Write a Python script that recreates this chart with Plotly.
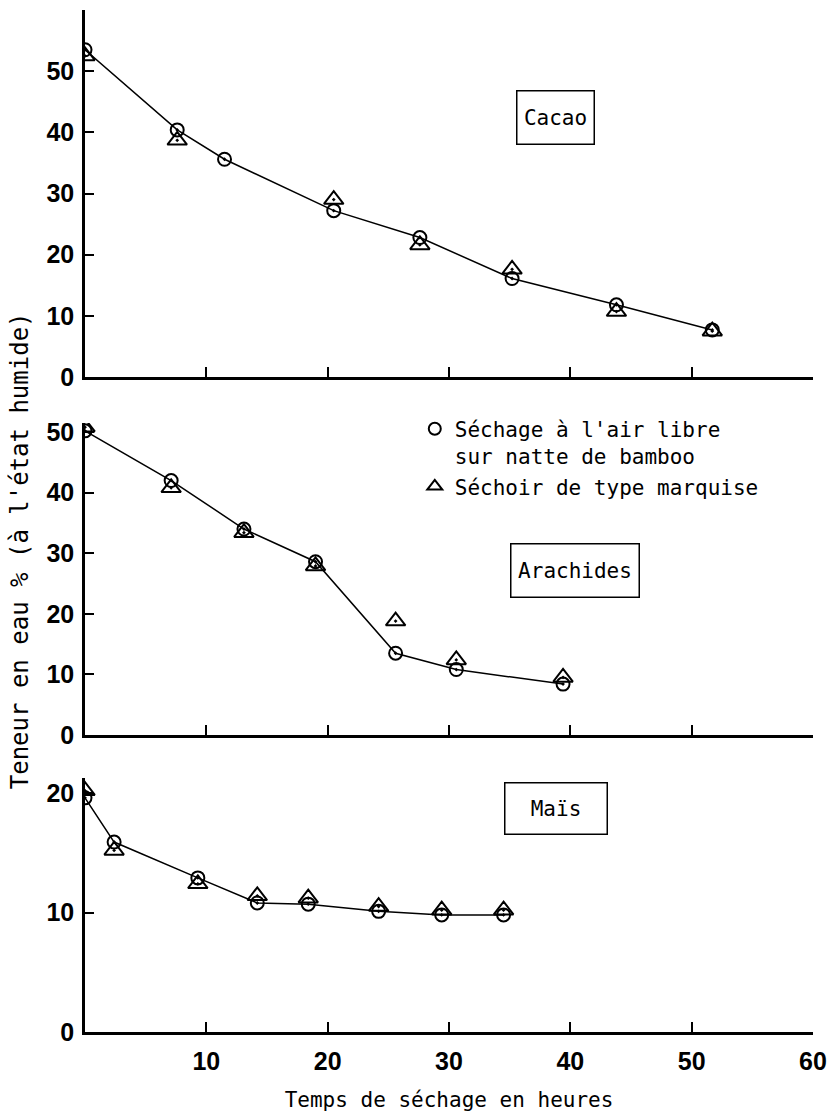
import plotly.graph_objects as go

# ---------------- data ----------------
cacao_x_circ = [0, 7.6, 11.5, 20.5, 27.6, 35.2, 43.8, 51.7]
cacao_y_circ = [53.5, 40.4, 35.6, 27.2, 22.8, 16.1, 11.8, 7.7]
cacao_x_tri = [0, 7.6, 20.5, 27.6, 35.2, 43.8, 51.7]
cacao_y_tri = [52.5, 38.7, 29.0, 21.6, 17.6, 10.7, 7.5]

arachides_x_circ = [0, 7.1, 13.1, 19.0, 25.6, 30.6, 39.4]
arachides_y_circ = [50.2, 42.0, 34.0, 28.6, 13.5, 10.8, 8.4]
arachides_x_tri = [0, 7.1, 13.1, 19.0, 25.6, 30.6, 39.4]
arachides_y_tri = [50.8, 40.8, 33.4, 27.9, 18.8, 12.4, 9.5]

mais_x = [0, 2.4, 9.3, 14.2, 18.4, 24.2, 29.4, 34.5]
mais_y_circ = [19.6, 15.9, 12.9, 10.8, 10.7, 10.1, 9.8, 9.8]
mais_y_tri = [20.2, 15.2, 12.4, 11.4, 11.2, 10.5, 10.2, 10.2]

x_ticks = [10, 20, 30, 40, 50, 60]
y_ticks_top = [0, 10, 20, 30, 40, 50, 60]
y_ticklabels_top = ["0", "10", "20", "30", "40", "50", ""]
y_ticks_mid = [0, 10, 20, 30, 40, 50]
y_ticks_bot = [0, 10, 20]

panel_names = ["Cacao", "Arachides", "Maïs"]
legend_circ = "Séchage à l'air libre<br>sur natte de bamboo"
legend_tri = "Séchoir de type marquise"
x_title = "Temps de séchage en heures"
y_title = "Teneur en eau % (à l'état humide)"

# ---------------- styling ----------------
MONO = "DejaVu Sans Mono, Liberation Mono, monospace"
TICKFONT = dict(family="Liberation Sans, Arial, sans-serif", size=25, color="black", weight="bold")
circ_marker = dict(symbol="circle-open-dot", size=13, color="black", line=dict(width=2, color="black"))
tri_marker = dict(symbol="triangle-up-open-dot", size=17, color="black", line=dict(width=2, color="black"))
LINE = dict(color="black", width=1.5)

fig = go.Figure()

panels = [
    ("x", "y", cacao_x_circ, cacao_y_circ, cacao_x_tri, cacao_y_tri),
    ("x2", "y2", arachides_x_circ, arachides_y_circ, arachides_x_tri, arachides_y_tri),
    ("x3", "y3", mais_x, mais_y_circ, mais_x, mais_y_tri),
]
for xa, ya, xc, yc, xt, yt in panels:
    fig.add_trace(go.Scatter(x=xc, y=yc, mode="lines", line=LINE, xaxis=xa, yaxis=ya,
                             showlegend=False, hoverinfo="skip"))
    fig.add_trace(go.Scatter(x=xc, y=yc, mode="markers", marker=circ_marker, xaxis=xa, yaxis=ya,
                             showlegend=False))
    fig.add_trace(go.Scatter(x=xt, y=yt, mode="markers", marker=tri_marker, xaxis=xa, yaxis=ya,
                             showlegend=False))

# legend keys
fig.add_trace(go.Scatter(x=[None], y=[None], mode="markers", name=legend_circ,
                         marker=dict(symbol="circle-open", size=12, color="black",
                                     line=dict(width=2, color="black"))))
fig.add_trace(go.Scatter(x=[None], y=[None], mode="markers", name=legend_tri,
                         marker=dict(symbol="triangle-up-open", size=13, color="black",
                                     line=dict(width=2, color="black"))))

common_x = dict(range=[0, 60], showline=True, linecolor="black", linewidth=2.5,
                ticks="inside", ticklen=10, tickwidth=2, tickcolor="black",
                tickvals=x_ticks, showgrid=False, zeroline=False, fixedrange=True,
                automargin=False)
common_y = dict(showline=True, linecolor="black", linewidth=2.5,
                ticks="inside", ticklen=9, tickwidth=2, tickcolor="black",
                showgrid=False, zeroline=False, tickfont=TICKFONT, ticklabelstandoff=3,
                automargin=False)

fig.update_layout(
    width=828, height=1112,
    margin=dict(l=85, r=15, t=10, b=80, autoexpand=False),
    paper_bgcolor="white", plot_bgcolor="white",
    font=dict(family=MONO, color="black"),
    xaxis=dict(**common_x, anchor="y", showticklabels=False),
    xaxis2=dict(**common_x, anchor="y2", showticklabels=False, matches="x"),
    xaxis3=dict(**common_x, anchor="y3", showticklabels=True, matches="x",
                tickfont=TICKFONT, ticklabelstandoff=5,
                title=dict(text=x_title, font=dict(family=MONO, size=21, color="black"), standoff=20)),
    yaxis=dict(**common_y, domain=[0.6409, 1.0], range=[0, 60], anchor="x",
               tickvals=y_ticks_top, ticktext=y_ticklabels_top),
    yaxis2=dict(**common_y, domain=[0.2906, 0.5959], range=[0, 51.5], anchor="x2",
                tickvals=y_ticks_mid),
    yaxis3=dict(**common_y, domain=[0.0, 0.249], range=[0, 21.3], anchor="x3",
                tickvals=y_ticks_bot),
    legend=dict(x=0.453, y=0.610, xanchor="left", yanchor="top", valign="top",
                bgcolor="rgba(0,0,0,0)", font=dict(family=MONO, size=21, color="black"),
                itemwidth=30, tracegroupgap=0),
    showlegend=True,
)

box = dict(showarrow=False, bordercolor="black", borderwidth=1.5, borderpad=0,
           bgcolor="white", font=dict(family=MONO, size=21, color="black"), align="center")
fig.add_annotation(text=panel_names[0], x=38.8, y=42.5, xref="x", yref="y", width=76, height=52, **box)
fig.add_annotation(text=panel_names[1], x=40.4, y=27.2, xref="x2", yref="y2", width=127, height=52, **box)
fig.add_annotation(text=panel_names[2], x=38.8, y=18.7, xref="x3", yref="y3", width=101, height=50, **box)

fig.add_annotation(text=y_title, x=-0.089, y=0.4706, xref="paper", yref="paper",
                   textangle=-90, showarrow=False, xanchor="center", yanchor="middle",
                   font=dict(family=MONO, size=24, color="black"))

fig.write_html("out.html",
               config={"displayModeBar": False},
               post_script="document.body.style.margin='0';document.body.style.overflow='hidden';")
